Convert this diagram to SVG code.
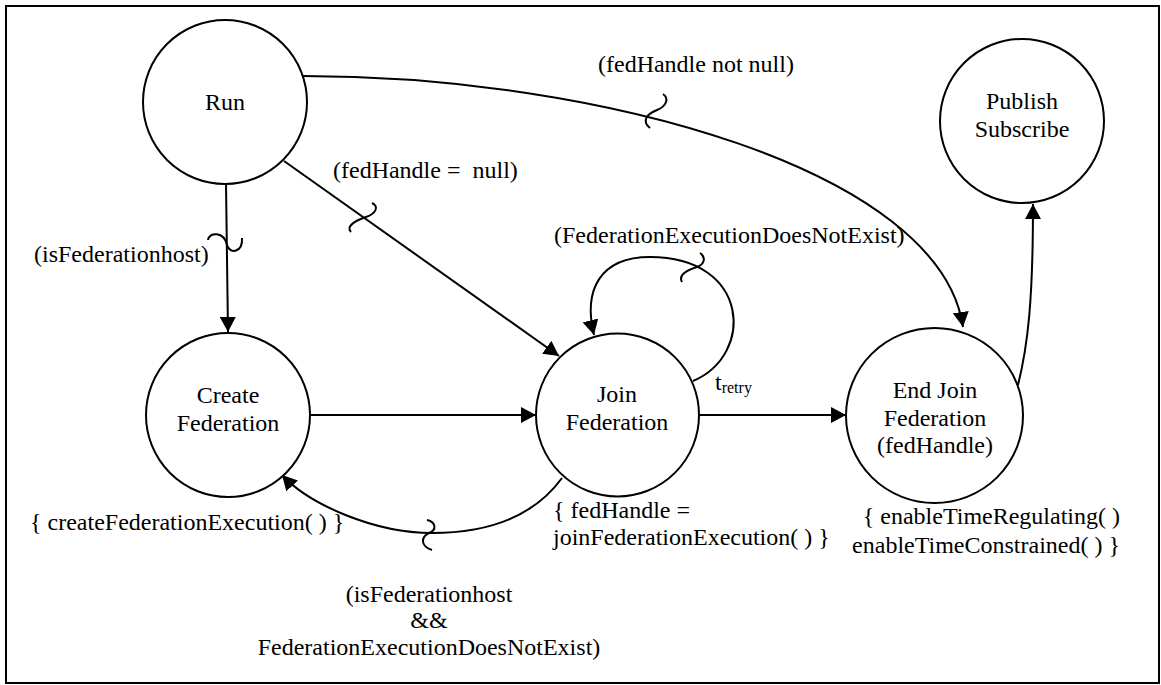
<svg xmlns="http://www.w3.org/2000/svg" width="1161" height="685" viewBox="0 0 1161 685">
<style>
text{font-family:"Liberation Serif","Times New Roman",serif;font-size:24px;fill:#000;white-space:pre}
.c{text-anchor:middle}
.e{text-anchor:end}
.node{fill:#fff;stroke:#000;stroke-width:2}
.edge{fill:none;stroke:#000;stroke-width:2}
.jump{fill:none;stroke:#000;stroke-width:2}
.frame{fill:#fff;stroke:#000;stroke-width:2}
</style>
<defs>
<marker id="arr" markerUnits="userSpaceOnUse" markerWidth="16" markerHeight="16" refX="15" refY="8" orient="auto">
<path d="M0,0 L15,8 L0,16 Z" fill="#000"/>
</marker>
</defs>
<rect class="frame" x="6" y="6" width="1153" height="677"/>

<g id="connectors">
<path class="edge" d="M226,184 L228,332" marker-end="url(#arr)"/>
<path class="edge" d="M284,161 L559,356" marker-end="url(#arr)"/>
<path class="edge" d="M303,76 C600,76 940,170 963,327" marker-end="url(#arr)"/>
<path class="edge" d="M310,415 L536,415" marker-end="url(#arr)"/>
<path class="edge" d="M699,415 L846,415" marker-end="url(#arr)"/>
<path class="edge" d="M1018,385 C1028,345 1033,300 1033,204" marker-end="url(#arr)"/>
<path class="edge" d="M693,381 C755,355 750,257 650,257 C600,257 583,290 594,335" marker-end="url(#arr)"/>
<path class="edge" d="M562,478 C535,515 490,533 432,533 C375,533 310,505 282,475" marker-end="url(#arr)"/>
<path class="jump" d="M208,240 C209,232 224,231 227,245 C230,255 243,252 242,238"/>
<path class="jump" d="M372,203 C380,207 375,214 366,217 C357,220 345,226 351,232"/>
<path class="jump" d="M663,94 C669,98 667,106 657,110 C647,114 641,121 650,128"/>
<path class="jump" d="M700,253 C706,257 705,264 697,267 C687,270 678,275 682,282"/>
<path class="jump" d="M427,520 C436,522 437,530 429,533 C421,537 420,546 432,550"/>
<text x="34" y="262">(isFederationhost)</text>
<text x="333" y="178">(fedHandle =  null)</text>
<text x="598" y="72">(fedHandle not null)</text>
<text x="554" y="243">(FederationExecutionDoesNotExist)</text>
<text x="715" y="390">t<tspan font-size="16" dy="3">retry</tspan></text>
<text class="c" x="429" y="602">(isFederationhost</text>
<text class="c" x="429" y="628">&amp;&amp;</text>
<text class="c" x="429" y="655">FederationExecutionDoesNotExist)</text>
</g>

<g id="run">
<circle class="node" cx="225" cy="102" r="82"/>
<text class="c" x="225" y="110" font-size="25">Run</text>
</g>
<g id="publish-subscribe">
<circle class="node" cx="1022" cy="121" r="82"/>
<text class="c" x="1022" y="109">Publish</text>
<text class="c" x="1022" y="137">Subscribe</text>
</g>
<g id="create-federation">
<circle class="node" cx="228" cy="415" r="82"/>
<text class="c" x="228" y="403">Create</text>
<text class="c" x="228" y="431">Federation</text>
<text x="30" y="530">{ createFederationExecution( ) }</text>
</g>
<g id="join-federation">
<circle class="node" cx="617.5" cy="415" r="81.5"/>
<text class="c" x="617" y="402">Join</text>
<text class="c" x="617" y="430">Federation</text>
<text x="553" y="518">{ fedHandle =</text>
<text x="553" y="545">joinFederationExecution( ) }</text>
</g>
<g id="end-join-federation">
<ellipse class="node" cx="934.5" cy="415.5" rx="88.5" ry="87.5"/>
<text class="c" x="935" y="398">End Join</text>
<text class="c" x="935" y="426">Federation</text>
<text class="c" x="935" y="453">(fedHandle)</text>
<text class="e" x="1120" y="524">{ enableTimeRegulating( )</text>
<text class="e" x="1120" y="553">enableTimeConstrained( ) }</text>
</g>
</svg>
